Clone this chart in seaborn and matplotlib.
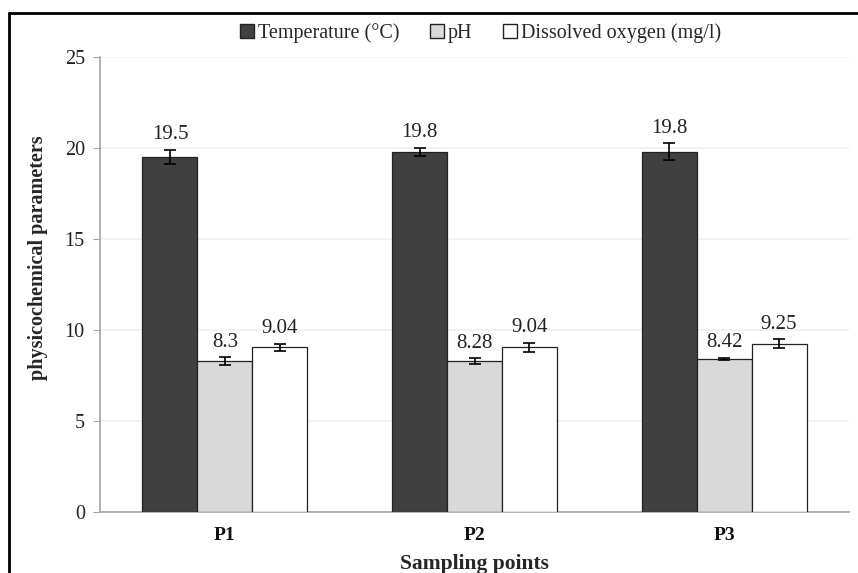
import numpy as np
import pandas as pd
import matplotlib
matplotlib.use("Agg")
import matplotlib.pyplot as plt
import seaborn as sns
from matplotlib.lines import Line2D

points = ["P1", "P2", "P3"]
params = ["Temperature (°C)", "pH", "Dissolved oxygen (mg/l)"]
temperature = [19.5, 19.8, 19.8]
ph = [8.3, 8.28, 8.42]
oxygen = [9.04, 9.04, 9.25]
temperature_err = [0.4, 0.22, 0.45]
ph_err = [0.2, 0.17, 0.05]
oxygen_err = [0.2, 0.25, 0.25]
value_labels = {
    "Temperature (°C)": ["19.5", "19.8", "19.8"],
    "pH": ["8.3", "8.28", "8.42"],
    "Dissolved oxygen (mg/l)": ["9.04", "9.04", "9.25"],
}

colors = ["#404040", "#d9d9d9", "#ffffff"]

rows = []
for name, vals, errs in zip(params, [temperature, ph, oxygen],
                            [temperature_err, ph_err, oxygen_err]):
    for p, v, e in zip(points, vals, errs):
        rows.append({"point": p, "param": name, "value": v, "err": e})
df = pd.DataFrame(rows)

sns.set_style("white")
plt.rcParams["font.family"] = ["Liberation Serif", "DejaVu Serif"]

fig = plt.figure(figsize=(8.58, 5.73), dpi=100)
ax = fig.add_axes([0.1166, 0.1065, 0.8729, 0.794])

sns.barplot(data=df, x="point", y="value", hue="param", order=points,
            hue_order=params, palette=colors, width=0.66, errorbar=None,
            edgecolor="#222222", linewidth=0.9, saturation=1, ax=ax,
            legend=False, zorder=3)

# error bars + value labels from bar positions
for container, name in zip(ax.containers, params):
    sub = df[df["param"] == name].set_index("point").loc[points]
    xs = [b.get_x() + b.get_width() / 2 for b in container]
    ax.errorbar(xs, sub["value"], yerr=sub["err"], fmt="none", ecolor="black",
                elinewidth=1.2, capsize=4, capthick=1.2, zorder=4)
    for x, v, e, lab in zip(xs, sub["value"], sub["err"], value_labels[name]):
        ax.text(x, v + e + 0.3, lab, ha="center", va="bottom", fontsize=15,
                color="#222222")

ax.set_ylim(0, 25)
ax.set_xlim(-0.5, 2.5)
ax.set_yticks([0, 5, 10, 15, 20, 25])
ax.yaxis.grid(True, color="#f0f0f0", linewidth=1.2, zorder=0)
ax.set_axisbelow(True)

ax.tick_params(axis="y", direction="out", length=5, color="#a6a6a6",
               labelsize=14.5, labelcolor="#222222", pad=6, left=True)
ax.set_xticks([0, 1, 2])
ax.set_xticklabels(points, fontweight="bold", fontsize=14)
ax.tick_params(axis="x", length=0, pad=11, labelcolor="#111111")
ax.set_xticks([0.5, 1.5, 2.5], minor=True)
ax.tick_params(axis="x", which="minor", direction="out", length=5,
               color="#a6a6a6")

for s in ["top", "right"]:
    ax.spines[s].set_visible(False)
for s in ["left", "bottom"]:
    ax.spines[s].set_color("#a6a6a6")
    ax.spines[s].set_linewidth(1.2)

ax.set_xlabel("Sampling points", fontweight="bold", fontsize=15.5, labelpad=7)
ax.set_ylabel("physicochemical parameters", fontweight="bold", fontsize=14.5)
ax.yaxis.set_label_coords(-0.07, 0.558)

handles = [plt.Rectangle((0, 0), 1, 1, facecolor=c, edgecolor="#222222",
                         linewidth=1.0) for c in colors]
fig.legend(handles, params, loc="center", bbox_to_anchor=(0.56, 0.943),
           ncol=3, frameon=False, fontsize=14.5, handlelength=0.7,
           handleheight=0.7, handletextpad=0.2, columnspacing=1.5)

# outer border (top and left visible in the crop)
fig.add_artist(Line2D([9 / 858, 1.0], [1 - 13 / 573, 1 - 13 / 573],
                      transform=fig.transFigure, color="black", linewidth=2))
fig.add_artist(Line2D([9 / 858, 9 / 858], [0, 1 - 13 / 573],
                      transform=fig.transFigure, color="black", linewidth=2))

fig.savefig("out.png", dpi=100)
